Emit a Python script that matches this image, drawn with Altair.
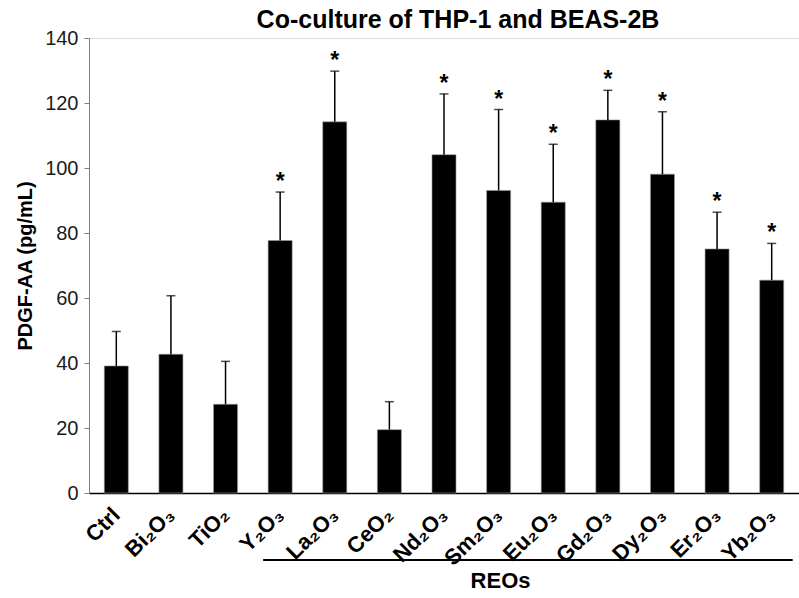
import altair as alt
import pandas as pd

FONT = "Liberation Sans, Arial, Helvetica, sans-serif"

# PDGF-AA levels (pg/mL) in THP-1 / BEAS-2B co-culture
groups = ["Ctrl", "Bi₂O₃", "TiO₂", "Y₂O₃", "La₂O₃", "CeO₂", "Nd₂O₃",
          "Sm₂O₃", "Eu₂O₃", "Gd₂O₃", "Dy₂O₃", "Er₂O₃", "Yb₂O₃"]
means = [39.1, 42.7, 27.3, 77.7, 114.2, 19.5, 104.1, 93.1, 89.5, 114.8, 98.1, 75.1, 65.5]
sds = [10.6, 18.0, 13.2, 14.9, 15.6, 8.6, 18.7, 24.9, 17.8, 9.1, 19.2, 11.3, 11.3]
significant = [False, False, False, True, True, False, True, True, True, True, True, True, True]
y_ticks = [0, 20, 40, 60, 80, 100, 120, 140]

df = pd.DataFrame({
    "group": groups,
    "mean": means,
    "upper": [m + s for m, s in zip(means, sds)],
    "star": ["*" if s else "" for s in significant],
})

W, H = 710, 455

x_enc = alt.X(
    "group:N",
    sort=groups,
    scale=alt.Scale(paddingInner=0.56, paddingOuter=0.28),
    axis=alt.Axis(
        title=None, labelAngle=-45, labelAlign="right", labelBaseline="middle",
        labelFont=FONT, labelFontSize=22, labelFontWeight="bold", labelColor="#000000",
        labelPadding=18, ticks=False, domainColor="#000000", domainWidth=1.5,
    ),
)
y_scale = alt.Scale(domain=[0, 140], nice=False)
y_enc = alt.Y(
    "mean:Q",
    scale=y_scale,
    axis=alt.Axis(
        title="PDGF-AA (pg/mL)", values=y_ticks, grid=False,
        titleFont=FONT, titleFontSize=20, titleFontWeight="bold", titleColor="#000000",
        titlePadding=9,
        labelFont=FONT, labelFontSize=20, labelColor="#1a1a1a", labelPadding=6,
        tickSize=5, tickColor="#808080", domainColor="#808080", domainWidth=1,
    ),
)

base = alt.Chart(df)

bars = base.mark_bar(color="#000000", stroke="#9a9a9a", strokeWidth=0.6).encode(x=x_enc, y=y_enc)

err_line = base.mark_rule(color="#000000", strokeWidth=1.5).encode(
    x=alt.X("group:N", sort=groups),
    y=alt.Y("mean:Q", scale=y_scale),
    y2="upper:Q",
)
err_cap = base.mark_tick(color="#000000", thickness=1.5, size=9, orient="horizontal").encode(
    x=alt.X("group:N", sort=groups),
    y=alt.Y("upper:Q", scale=y_scale),
)
stars = base.mark_text(
    font=FONT, fontSize=23, fontWeight="bold", color="#000000",
    baseline="alphabetic", dy=-3,
).encode(
    x=alt.X("group:N", sort=groups),
    y=alt.Y("upper:Q", scale=y_scale),
    text="star:N",
)

# bracket under the rare-earth oxide group
reo_line = alt.Chart(pd.DataFrame({"a": [0]})).mark_rule(
    color="#000000", strokeWidth=2, xOffset=-5, x2Offset=9,
).encode(
    x=alt.X(datum="Y₂O₃", bandPosition=0),
    x2=alt.X2Datum(datum="Yb₂O₃", bandPosition=1),
    y=alt.value(H + 67),
)
reo_label = alt.Chart(pd.DataFrame({"a": [0]})).mark_text(
    text="REOs", font=FONT, fontSize=22, fontWeight="bold", color="#000000", baseline="middle",
).encode(
    x=alt.X(datum="Sm₂O₃", bandPosition=0.58),
    y=alt.value(H + 88),
)

chart = alt.layer(bars, err_line, err_cap, stars, reo_line, reo_label).properties(
    width=W,
    height=H,
    title=alt.Title(
        "Co-culture of THP-1 and BEAS-2B", font=FONT, fontSize=25, fontWeight="bold",
        color="#000000", offset=-5, dx=14,
    ),
    autosize=alt.AutoSizeParams(type="none"),
    padding={"left": 89, "top": 38, "right": 0, "bottom": 105},
).configure_view(stroke=None).configure(background="#ffffff")

chart.save("out.html", embed_options={"renderer": "svg", "actions": False})
